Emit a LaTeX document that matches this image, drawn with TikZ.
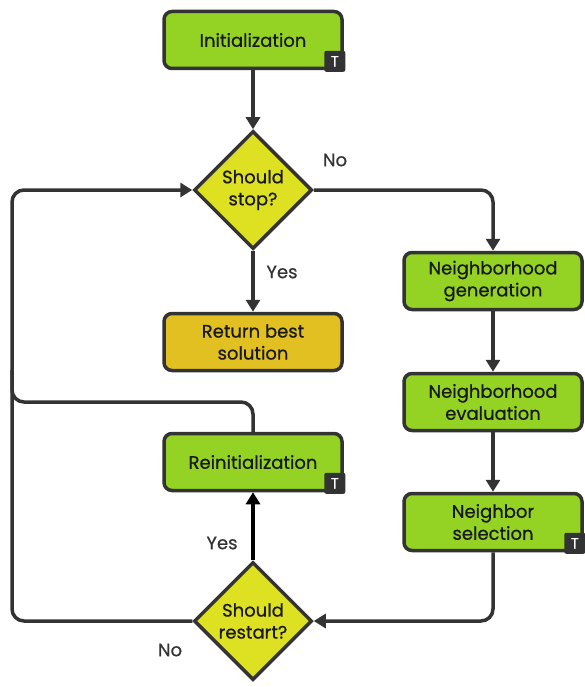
\documentclass[tikz,border=0pt]{standalone}
\usepackage{fontspec}
\setmainfont{Poppins}[FakeBold=0.6]
\usepackage{tikz}
\usetikzlibrary{arrows.meta,shapes.geometric}
\definecolor{edge}{RGB}{51,51,51}
\definecolor{stepgreen}{RGB}{148,210,36}
\definecolor{askyellow}{RGB}{222,224,34}
\definecolor{endgold}{RGB}{226,192,34}
\tikzset{
box/.style = {rectangle, rounded corners=8pt, draw=edge, line width=3.5pt, fill=stepgreen, minimum width = #1, minimum height=57pt, align=center, font=\fontsize{18}{22}\selectfont, text=black!90},
box/.default = 178pt, % width of the process boxes
ask/.style = {diamond, aspect=1, draw=edge, line width=3.5pt, fill=askyellow, minimum width=118pt, minimum height=118pt, inner sep=0pt, align=center, font=\fontsize{18}{22}\selectfont, text=black!90},
badge/.style = {rectangle, fill=edge, text=white, minimum size=21pt, inner sep=0pt, rounded corners=2pt, anchor=south east, xshift=1.75pt, yshift=-1.75pt, font=\fontsize{15}{15}\selectfont},
flow/.style = {draw=edge, line width=3.5pt, rounded corners=12pt, -{Triangle[length=12pt,width=14pt]}},
rail/.style = {draw=edge, line width=3.5pt, rounded corners=12pt},
tag/.style = {font=\fontsize{18}{18}\selectfont, text=edge}
}

\begin{document}
\begin{tikzpicture}[x=1pt,y=-1pt]
    \useasboundingbox (0,0) rectangle (584,687);

    \node[box] (initBox) at (253,40) {Initialization};
    \node[badge] (initT) at (initBox.south east) {T};

    \node[ask] (stopAsk) at (253,190) {Should\\stop?};
    \node[box, fill=endgold] (returnBox) at (253,342) {Return best\\solution};

    \node[box] (reinitBox) at (253,462) {Reinitialization};
    \node[badge] (reinitT) at (reinitBox.south east) {T};
    \node[ask] (restartAsk) at (253,621) {Should\\restart?};

    \node[box] (genBox) at (493,281) {Neighborhood\\generation};
    \node[box] (evalBox) at (493,402) {Neighborhood\\evaluation};
    \node[box] (selBox) at (493,522) {Neighbor\\selection};
    \node[badge] (selT) at (selBox.south east) {T};

    \node[tag] (stopNo) at (335,160) {No};
    \node[tag] (stopYes) at (282,272) {Yes};
    \node[tag] (restartYes) at (222,543) {Yes};
    \node[tag] (restartNo) at (170,650) {No};

    \coordinate (railMid) at (12,402);
    \coordinate (railUp) at (12,370);

    \draw[flow] (initBox) -- (stopAsk);
    \draw[flow] (stopAsk) -- (returnBox);
    \draw[flow] (stopAsk.east) -| (genBox.north);
    \draw[flow] (genBox) -- (evalBox);
    \draw[flow] (evalBox) -- (selBox);
    \draw[flow] (selBox.south) |- (restartAsk.east);
    \draw[flow, draw=black, -{Triangle[length=12pt,width=14pt]}] (restartAsk.north) -- (reinitBox.south);
    \draw[flow] (restartAsk.west) -| (railMid) |- (stopAsk.west);
    \draw[rail] (reinitBox.north) |- (railMid) -- (railUp);
\end{tikzpicture}
\end{document}
